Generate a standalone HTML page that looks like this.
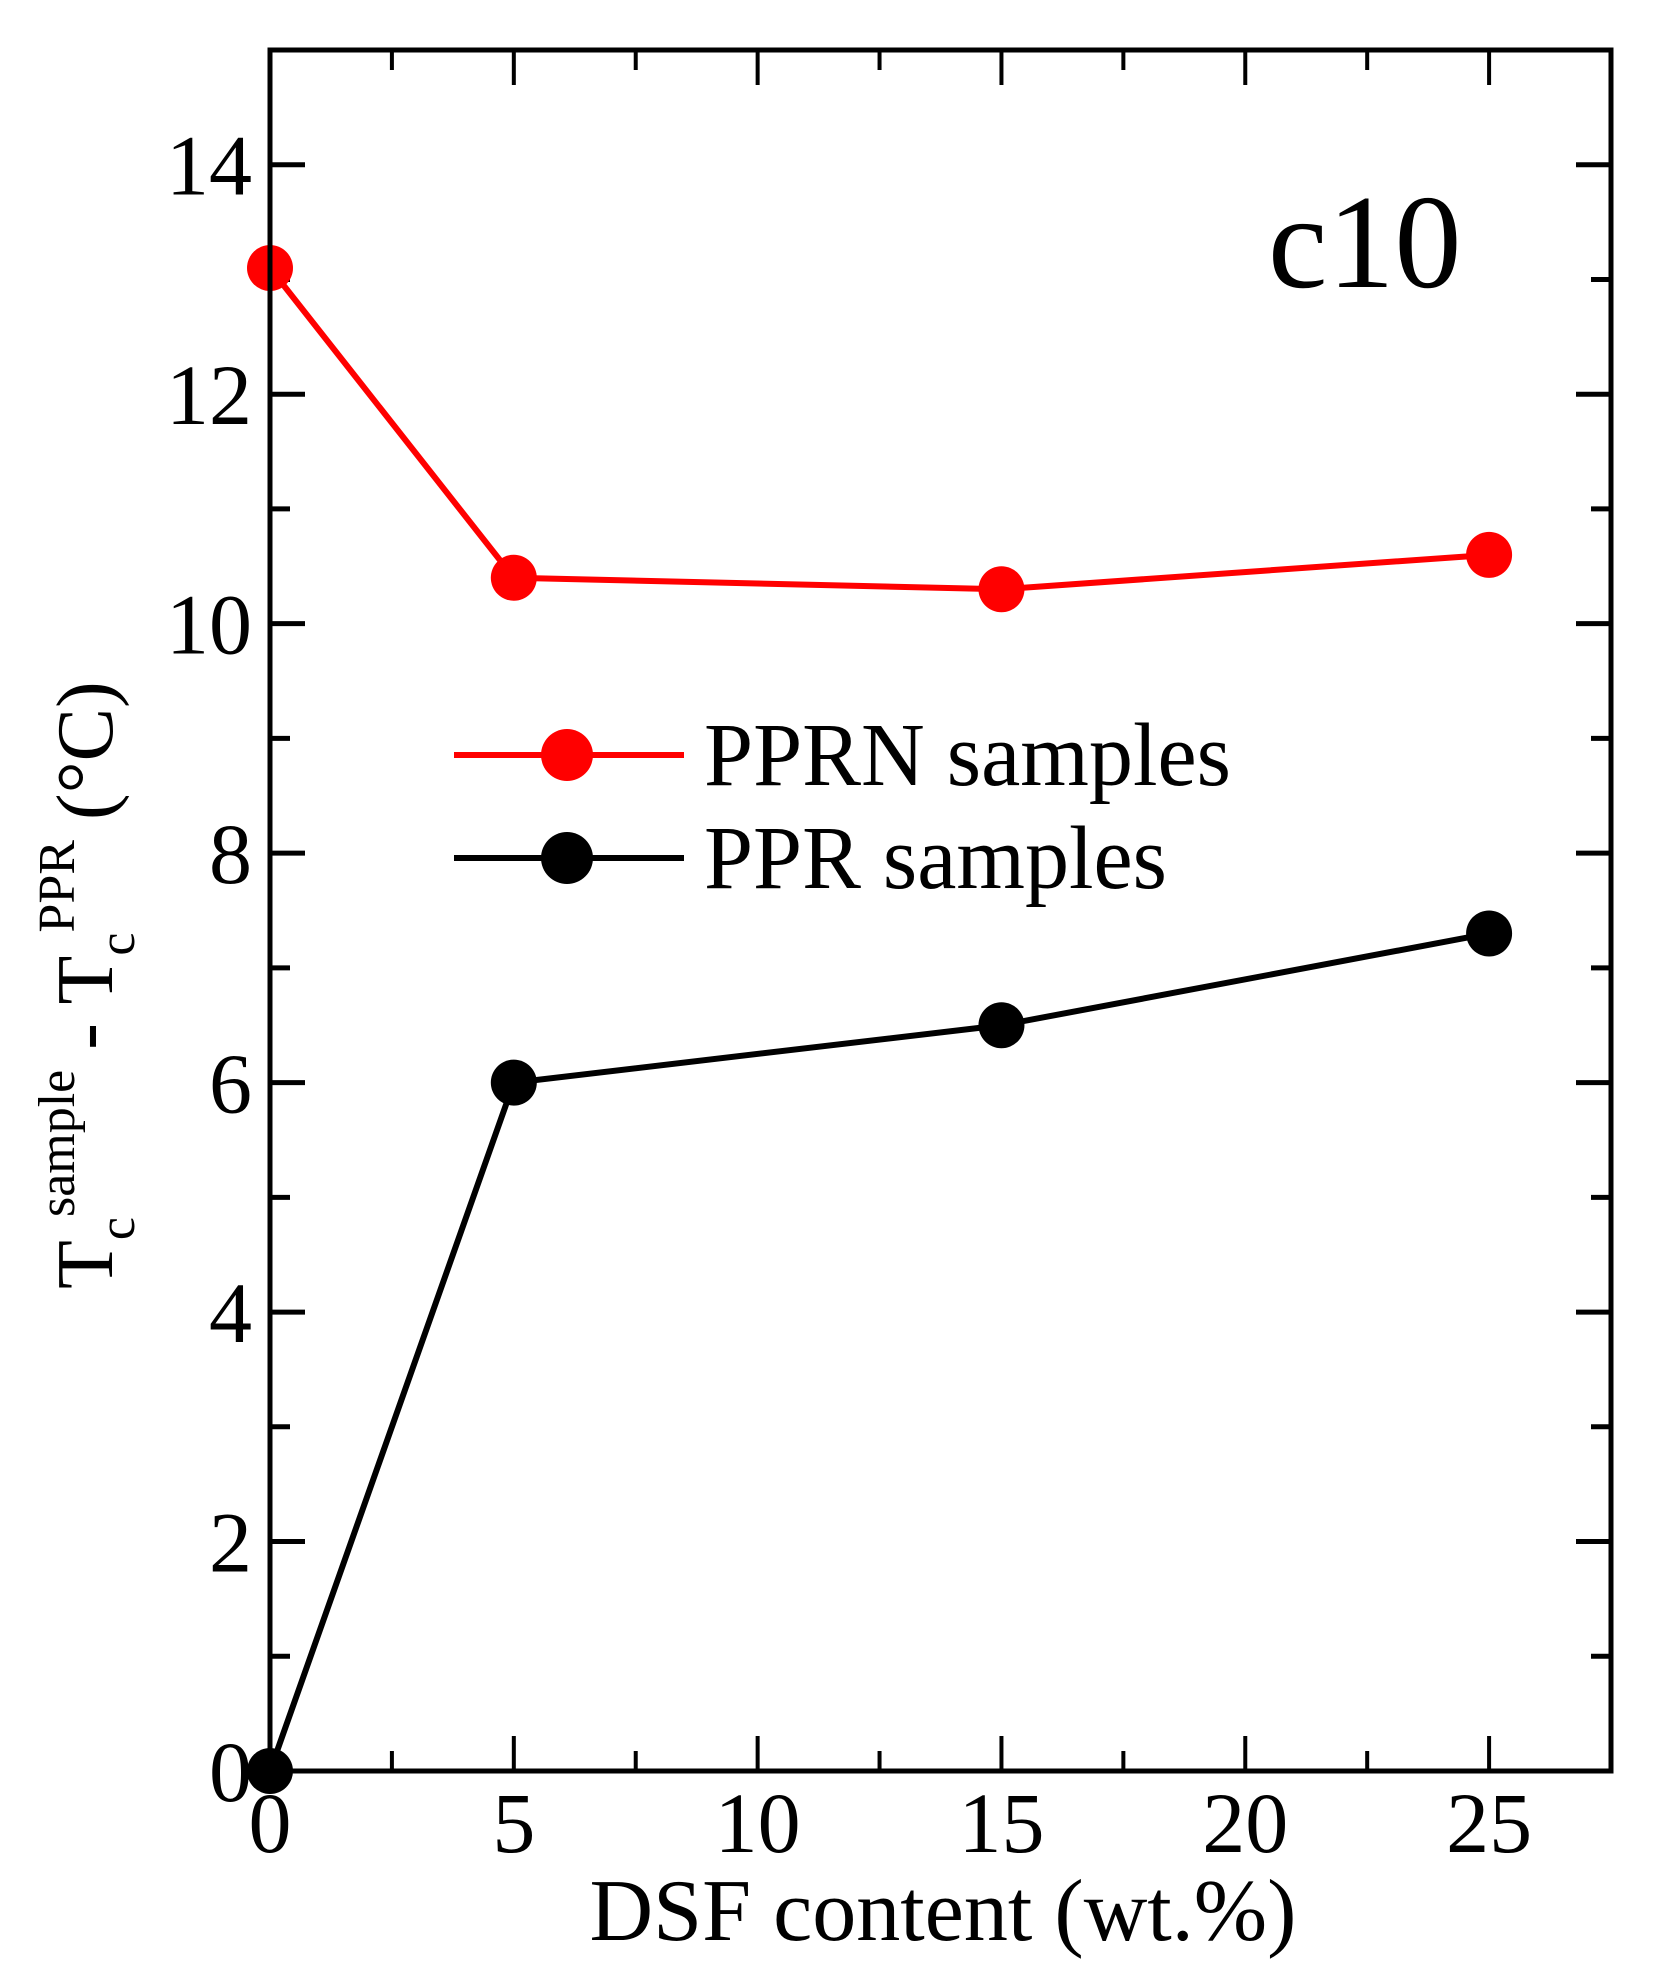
<!DOCTYPE html>
<html><head><meta charset="utf-8"><style>
html,body{margin:0;padding:0;background:#fff;}
svg{display:block;font-family:"Liberation Serif",serif;}
</style></head><body>
<svg id="chart" width="1658" height="1987" viewBox="0 0 1658 1987">
<g id="ticks"></g>
<g id="series"></g>
<rect x="270" y="50" width="1341" height="1721" fill="none" stroke="#000" stroke-width="5"/>
<text x="1268" y="287" font-size="134">c10</text>
<g>
<line x1="454" y1="755" x2="684" y2="755" stroke="#f00" stroke-width="6"/>
<circle cx="567" cy="755" r="26" fill="#f00"/>
<text x="704" y="785" font-size="90" textLength="527" lengthAdjust="spacingAndGlyphs">PPRN samples</text>
<line x1="454" y1="858" x2="684" y2="858" stroke="#000" stroke-width="6"/>
<circle cx="567" cy="858" r="26" fill="#000"/>
<text x="704" y="888" font-size="90" textLength="463" lengthAdjust="spacingAndGlyphs">PPR samples</text>
</g>
<text x="943" y="1940" font-size="88" text-anchor="middle" textLength="707" lengthAdjust="spacingAndGlyphs">DSF content (wt.%)</text>
<text transform="translate(112,1289) rotate(-90)" font-size="80">T<tspan font-size="52" dy="22">c</tspan><tspan font-size="52" dy="-60">sample</tspan><tspan dy="38"> - T</tspan><tspan font-size="52" dy="22">c</tspan><tspan font-size="52" dy="-60">PPR</tspan><tspan dy="38"> (°C)</tspan></text>
</svg>
<script>
const xCats = [0, 5, 15, 25];
const pprnValues = [13.1, 10.4, 10.3, 10.6];
const pprValues = [0, 6, 6.5, 7.3];
const xTickLabels = ["0", "5", "10", "15", "20", "25"];
const yTickLabels = ["0", "2", "4", "6", "8", "10", "12", "14"];

const L=270,R=1611,T=50,B=1771,XMAX=27.5,YMAX=15;
const sx=v=>L+v*(R-L)/XMAX, sy=v=>B-v*(B-T)/YMAX;
const NS="http://www.w3.org/2000/svg";
const tk=document.getElementById('ticks'), se=document.getElementById('series');
function mk(tag,attrs,parent){const e=document.createElementNS(NS,tag);for(const k in attrs)e.setAttribute(k,attrs[k]);parent.appendChild(e);return e;}
for(let v=2.5;v<XMAX;v+=2.5){
  const major=Math.abs(v%5)<1e-6, len=major?35:20, x=sx(v);
  const a=mk('line',{x1:x,y1:B,x2:x,y2:B-len,stroke:'#000','stroke-width':4},tk);
  
  
  const b=mk('line',{x1:x,y1:T,x2:x,y2:T+len,stroke:'#000','stroke-width':4},tk);
  
  
}
xTickLabels.forEach(s=>{
  const t=mk('text',{x:sx(+s),y:1852,'font-size':86,'text-anchor':'middle'},tk);t.textContent=s;
  
  
});
for(let v=1;v<YMAX;v+=1){
  const major=v%2===0, len=major?35:20, y=sy(v);
  const a=mk('line',{x1:L,y1:y,x2:L+len,y2:y,stroke:'#000','stroke-width':5},tk);
  
  
  const b=mk('line',{x1:R,y1:y,x2:R-len,y2:y,stroke:'#000','stroke-width':5},tk);
  
  
}
yTickLabels.forEach(s=>{
  const t=mk('text',{x:252,y:sy(+s)+30,'font-size':86,'text-anchor':'end'},tk);t.textContent=s;
  
  
});
function series(vals,color,name){
  const pts=xCats.map((c,i)=>sx(c)+','+sy(vals[i])).join(' ');
  const p=mk('polyline',{points:pts,fill:'none',stroke:color,'stroke-width':6},se);
  
  
  xCats.forEach((c,i)=>{
    const m=mk('circle',{cx:sx(c),cy:sy(vals[i]),r:23,fill:color},se);
    
    
  });
}
series(pprnValues,'#f00','pprn');
series(pprValues,'#000','ppr');
</script>
</body></html>
